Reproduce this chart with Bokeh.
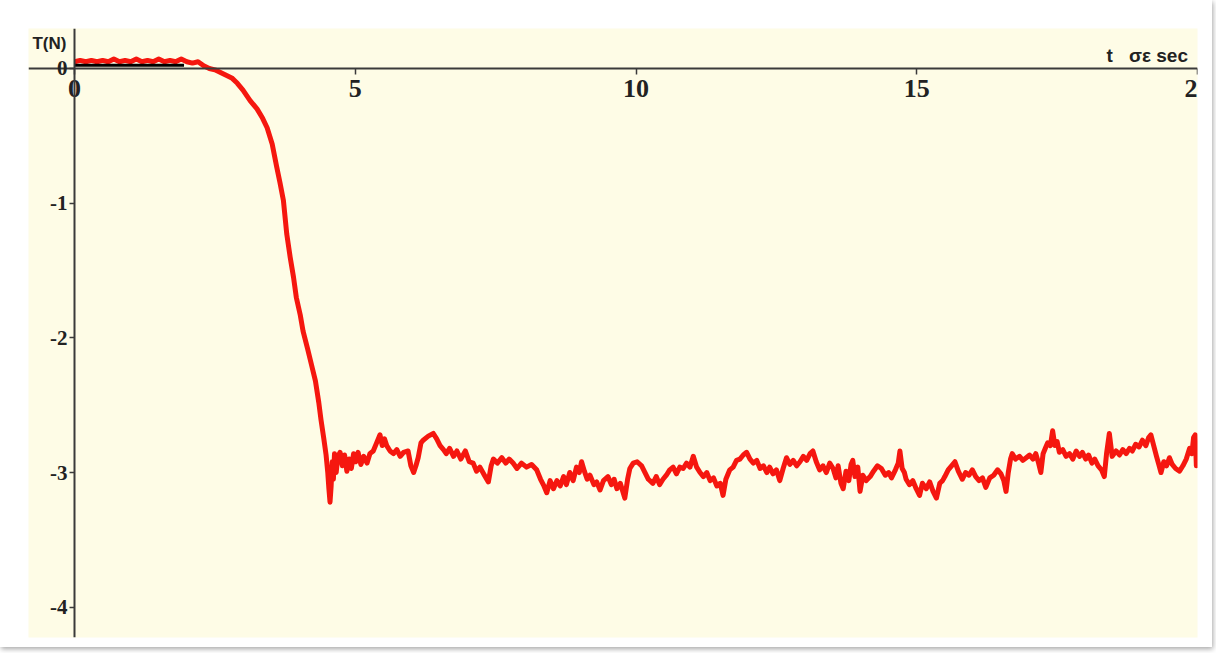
from bokeh.plotting import figure
from bokeh.models import Range1d, FixedTicker, Label, ColumnDataSource
from bokeh.embed import file_html
from bokeh.resources import INLINE

# ---- data ----
t_red = [0.00, 0.10, 0.20, 0.30, 0.40, 0.50, 0.60, 0.70, 0.80, 0.90, 1.00, 1.10, 1.20, 1.30, 1.40,
         1.50, 1.60, 1.70, 1.80, 1.90, 2.00, 2.10, 2.20, 2.30, 2.40, 2.50, 2.60, 2.70, 2.80, 2.90,
         3.00, 3.13, 3.25, 3.35, 3.43, 3.52, 3.60, 3.66, 3.72, 3.78, 3.84, 3.90, 3.95, 4.02, 4.07,
         4.15, 4.22, 4.29, 4.35, 4.39, 4.44, 4.48, 4.51, 4.53, 4.55, 4.57, 4.59, 4.61, 4.63, 4.66,
         4.69, 4.73, 4.77, 4.81, 4.85, 4.89, 4.93, 4.97, 5.01, 5.05, 5.10, 5.15, 5.21, 5.26, 5.32,
         5.38, 5.44, 5.48, 5.52, 5.56, 5.62, 5.68, 5.74, 5.80, 5.86, 5.94, 5.99, 6.04, 6.08, 6.12,
         6.17, 6.21, 6.30, 6.39, 6.45, 6.51, 6.57, 6.62, 6.68, 6.75, 6.81, 6.88, 6.96, 7.03, 7.10,
         7.16, 7.22, 7.30, 7.37, 7.42, 7.46, 7.53, 7.61, 7.68, 7.74, 7.81, 7.88, 7.96, 8.05, 8.14,
         8.23, 8.30, 8.36, 8.41, 8.47, 8.53, 8.59, 8.65, 8.71, 8.76, 8.82, 8.88, 8.94, 8.99, 9.03,
         9.08, 9.13, 9.18, 9.25, 9.30, 9.36, 9.42, 9.50, 9.56, 9.61, 9.66, 9.72, 9.80, 9.85, 9.89,
         9.95, 10.02, 10.10, 10.16, 10.22, 10.30, 10.36, 10.42, 10.48, 10.54, 10.60, 10.66, 10.72,
         10.78, 10.84, 10.90, 10.96, 11.02, 11.08, 11.14, 11.20, 11.26, 11.32, 11.38, 11.44, 11.50,
         11.55, 11.60, 11.67, 11.73, 11.79, 11.85, 11.91, 11.97, 12.03, 12.09, 12.15, 12.21, 12.27,
         12.33, 12.38, 12.44, 12.50, 12.56, 12.62, 12.68, 12.74, 12.80, 12.86, 12.92, 12.98, 13.04,
         13.10, 13.15, 13.21, 13.27, 13.33, 13.39, 13.45, 13.51, 13.56, 13.60, 13.65, 13.69, 13.74,
         13.79, 13.83, 13.86, 13.90, 13.95, 13.99, 14.04, 14.10, 14.17, 14.23, 14.30, 14.37, 14.44,
         14.50, 14.55, 14.62, 14.67, 14.70, 14.74, 14.78, 14.81, 14.87, 14.93, 14.99, 15.05, 15.10,
         15.17, 15.23, 15.29, 15.35, 15.41, 15.46, 15.50, 15.56, 15.62, 15.68, 15.74, 15.81, 15.87,
         15.93, 15.99, 16.05, 16.11, 16.17, 16.23, 16.30, 16.37, 16.44, 16.50, 16.55, 16.59, 16.63,
         16.67, 16.70, 16.76, 16.83, 16.89, 16.95, 17.01, 17.07, 17.12, 17.17, 17.21, 17.25, 17.29,
         17.33, 17.38, 17.42, 17.46, 17.50, 17.54, 17.60, 17.66, 17.72, 17.78, 17.84, 17.90, 17.95,
         18.01, 18.06, 18.12, 18.17, 18.23, 18.29, 18.34, 18.38, 18.43, 18.48, 18.55, 18.61, 18.67,
         18.73, 18.79, 18.84, 18.90, 18.96, 19.02, 19.08, 19.13, 19.17, 19.22, 19.27, 19.31, 19.35,
         19.40, 19.45, 19.50, 19.55, 19.61, 19.68, 19.74, 19.80, 19.86, 19.90, 19.93, 19.96, 19.98,
         20.00]
T_red = [0.05, 0.06, 0.05, 0.06, 0.05, 0.06, 0.05, 0.07, 0.05, 0.06, 0.05, 0.07, 0.05, 0.06, 0.05,
         0.07, 0.05, 0.06, 0.05, 0.07, 0.05, 0.04, 0.05, 0.02, 0.00, -0.01, -0.03, -0.05, -0.07, -0.11,
         -0.16, -0.24, -0.30, -0.37, -0.44, -0.56, -0.73, -0.85, -0.98, -1.23, -1.40, -1.55, -1.70, -1.83, -1.95,
         -2.08, -2.20, -2.32, -2.48, -2.61, -2.75, -2.87, -3.00, -3.12, -3.22, -3.10, -2.92, -3.05, -2.86, -3.00,
         -2.88, -2.85, -2.95, -2.87, -2.99, -2.90, -2.97, -2.86, -2.92, -2.85, -2.94, -2.88, -2.93, -2.86, -2.84,
         -2.78, -2.72, -2.80, -2.75, -2.80, -2.84, -2.86, -2.83, -2.88, -2.85, -2.84, -2.95, -3.00, -2.95, -2.89,
         -2.78, -2.76, -2.73, -2.71, -2.75, -2.80, -2.83, -2.86, -2.82, -2.88, -2.84, -2.90, -2.84, -2.92, -2.93,
         -2.99, -2.96, -3.02, -3.07, -2.95, -2.90, -2.93, -2.89, -2.93, -2.90, -2.93, -2.97, -2.93, -2.96, -2.94,
         -2.98, -3.05, -3.10, -3.15, -3.06, -3.12, -3.06, -3.10, -3.03, -3.09, -3.00, -3.06, -2.96, -3.00, -2.92,
         -2.99, -3.05, -3.02, -3.09, -3.07, -3.13, -3.06, -3.03, -3.09, -3.05, -3.12, -3.08, -3.19, -3.05, -2.97,
         -2.93, -2.92, -2.95, -3.00, -3.05, -3.08, -3.03, -3.09, -3.05, -3.02, -2.98, -2.96, -3.01,
         -2.96, -2.97, -2.93, -2.96, -2.88, -2.96, -3.00, -3.03, -3.00, -3.06, -3.04, -3.10, -3.08,
         -3.17, -3.05, -2.98, -2.96, -2.91, -2.90, -2.87, -2.85, -2.90, -2.93, -2.91, -2.97, -2.95,
         -3.00, -2.96, -3.01, -2.98, -3.06, -2.97, -2.89, -2.94, -2.91, -2.95, -2.92, -2.88, -2.91,
         -2.86, -2.84, -2.92, -2.98, -2.95, -3.00, -2.93, -2.97, -3.04, -2.95, -3.08, -3.12, -2.99,
         -3.06, -2.94, -2.91, -3.03, -2.96, -3.14, -3.02, -3.06, -3.03, -2.99, -2.95, -2.97, -3.02,
         -3.00, -3.04, -2.98, -2.93, -2.84, -2.97, -3.00, -3.05, -3.09, -3.06, -3.12, -3.17, -3.08,
         -3.12, -3.07, -3.14, -3.19, -3.08, -3.06, -3.03, -2.98, -2.95, -2.92, -2.99, -3.05, -3.00,
         -3.02, -2.98, -3.03, -3.06, -3.04, -3.11, -3.04, -3.02, -2.98, -3.01, -3.06, -3.14, -3.00,
         -2.90, -2.86, -2.90, -2.88, -2.91, -2.89, -2.87, -2.90, -2.86, -2.93, -3.00, -2.86, -2.82,
         -2.78, -2.80, -2.69, -2.80, -2.77, -2.85, -2.83, -2.88, -2.86, -2.90, -2.84, -2.88, -2.85,
         -2.90, -2.87, -2.93, -2.90, -2.95, -2.98, -3.03, -2.86, -2.71, -2.88, -2.84, -2.87, -2.83,
         -2.86, -2.82, -2.84, -2.79, -2.81, -2.76, -2.80, -2.74, -2.72, -2.80, -2.88, -2.94, -3.00,
         -2.92, -2.95, -2.89, -2.94, -2.97, -2.99, -2.95, -2.90, -2.82, -2.86, -2.74, -2.72, -2.95,
         -2.92]

t_black = [0.0, 1.95]
T_black = [0.025, 0.025]

x_ticks = [0, 5, 10, 15, 20]
y_ticks = [0, -1, -2, -3, -4]
y_label = "T(N)"
x_label_parts = ["t", "σε sec"]

CREAM = "#FEFCE6"
AXIS = "#3a3a3a"

p = figure(frame_width=1169, frame_height=609, output_backend="svg", toolbar_location=None,
           x_range=Range1d(-0.82, 20.0), y_range=Range1d(-4.225, 0.297),
           min_border_left=28, min_border_top=28, min_border_right=15, min_border_bottom=10,
           background_fill_color=CREAM, border_fill_color="white", outline_line_color=None,
           styles={"box-shadow": "1px 2px 5px rgba(0,0,0,0.35)"})
p.grid.visible = False

src = ColumnDataSource(dict(t=t_red, T=T_red))
p.line("t", "T", source=src, line_color="#F5170F", line_width=5, line_join="round")
p.line(t_black, T_black, line_color="black", line_width=3)

for ax in (p.xaxis[0], p.yaxis[0]):
    ax.axis_line_color = AXIS
    ax.axis_line_width = 2
    ax.major_tick_line_color = AXIS
    ax.major_tick_line_width = 1.5
    ax.minor_tick_line_color = None
    ax.major_tick_in = 0
    ax.major_label_text_font = "Liberation Serif"
    ax.major_label_text_font_style = "bold"
    ax.major_label_text_color = "#222222"

p.xaxis.fixed_location = 0
p.yaxis.fixed_location = 0
p.xaxis.ticker = FixedTicker(ticks=x_ticks)
p.yaxis.ticker = FixedTicker(ticks=y_ticks)
p.yaxis.major_label_overrides = {v: str(v) for v in y_ticks}
p.xaxis.major_label_overrides = {v: str(v) for v in x_ticks}
p.xaxis.major_tick_out = 6
p.yaxis.major_tick_out = 5
p.xaxis.major_label_text_font_size = "26px"
p.yaxis.major_label_text_font_size = "21px"
p.xaxis.major_label_standoff = 6
p.yaxis.major_label_standoff = 2

p.add_layout(Label(x=-0.75, y=0.186, text=y_label, text_font="Liberation Sans", text_font_style="bold",
                   text_font_size="17px", text_color="#222222", text_baseline="middle"))
p.add_layout(Label(x=18.38, y=0.095, text=x_label_parts[0], text_font="Liberation Sans", text_font_style="bold",
                   text_font_size="19px", text_color="#222222", text_baseline="middle"))
p.add_layout(Label(x=18.78, y=0.095, text=x_label_parts[1], text_font="Liberation Sans", text_font_style="bold",
                   text_font_size="19px", text_color="#222222", text_baseline="middle"))

open("out.html", "w").write(file_html(p, INLINE))
